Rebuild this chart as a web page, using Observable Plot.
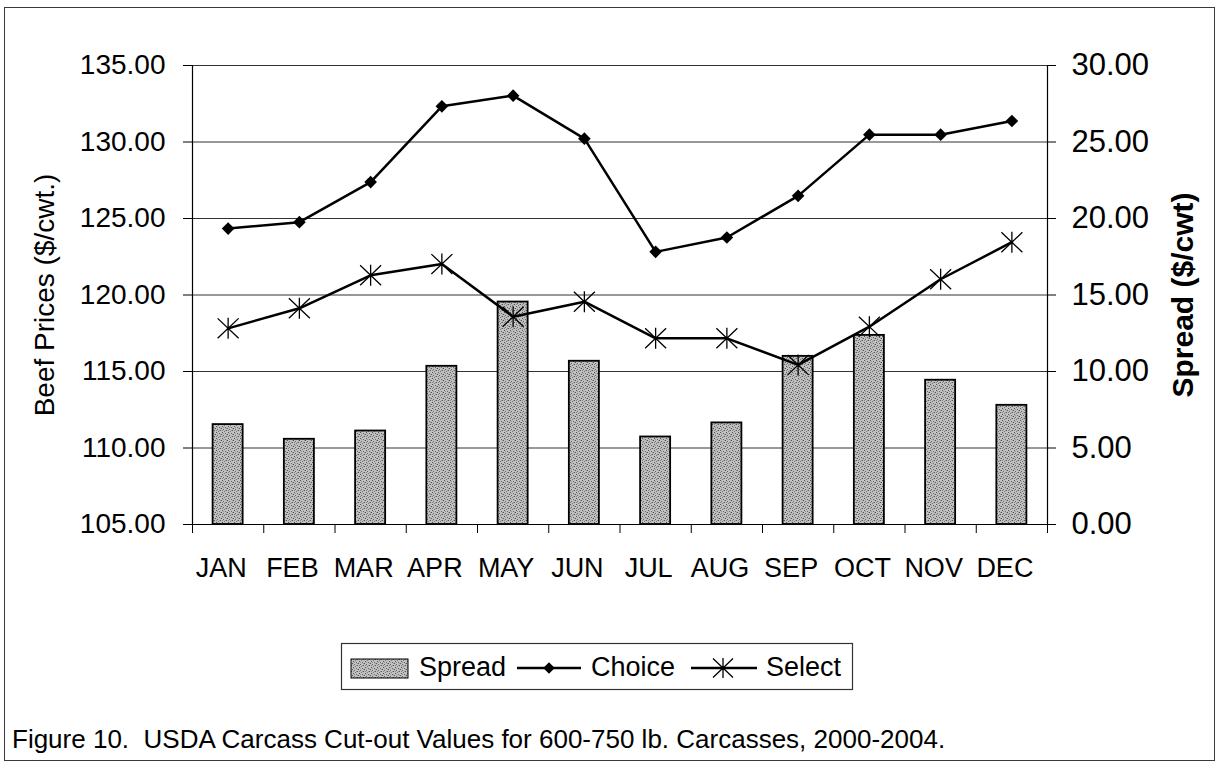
<!DOCTYPE html>
<html>
<head>
<meta charset="utf-8">
<script src="https://cdn.jsdelivr.net/npm/d3@7"></script>
<script src="https://cdn.jsdelivr.net/npm/@observablehq/plot@0.6"></script>
<style>
  html, body { margin: 0; padding: 0; background: #fff; }
  body { width: 1220px; height: 768px; position: relative; overflow: hidden; font-family: "Liberation Sans", Arial, sans-serif; }
  #frame { position: absolute; left: 4px; top: 7px; width: 1211px; height: 754px; border: 1.5px solid #3a3a3a; box-sizing: border-box; }
  #chart { position: absolute; left: 0; top: 0; }
  #legend { position: absolute; left: 341px; top: 643px; }
  #caption { position: absolute; left: 12px; top: 726px; font-size: 26px; line-height: 26px; white-space: pre; color: #000; }
</style>
</head>
<body>
<svg width="0" height="0" style="position:absolute">
  <defs>
    <pattern id="stip" width="6" height="6" patternUnits="userSpaceOnUse">
      <rect width="6" height="6" fill="#c0c0c0"/>
      <rect x="0" y="0" width="1" height="1" fill="#555"/>
      <rect x="3" y="1" width="1" height="1" fill="#666"/>
      <rect x="5" y="2" width="1" height="1" fill="#555"/>
      <rect x="1" y="3" width="1" height="1" fill="#666"/>
      <rect x="4" y="4" width="1" height="1" fill="#555"/>
      <rect x="2" y="5" width="1" height="1" fill="#777"/>
      <rect x="1" y="1" width="1" height="1" fill="#999"/>
      <rect x="4" y="2" width="1" height="1" fill="#999"/>
      <rect x="3" y="4" width="1" height="1" fill="#999"/>
      <rect x="0" y="4" width="1" height="1" fill="#888"/>
    </pattern>
  </defs>
</svg>
<div id="frame"></div>
<div id="chart"></div>
<div id="legend"></div>
<div id="caption">Figure 10.  USDA Carcass Cut-out Values for 600-750 lb. Carcasses, 2000-2004.</div>
<script>
const months = ["JAN","FEB","MAR","APR","MAY","JUN","JUL","AUG","SEP","OCT","NOV","DEC"];
const spread = [6.53, 5.57, 6.11, 10.34, 14.54, 10.67, 5.72, 6.64, 10.99, 12.36, 9.43, 7.79];
const choice = [124.34, 124.76, 127.38, 132.33, 133.03, 130.22, 122.82, 123.76, 126.48, 130.48, 130.48, 131.37];
const select = [117.82, 119.13, 121.29, 122.02, 118.58, 119.56, 117.17, 117.17, 115.43, 117.93, 121.03, 123.45];
const leftTicks = [105, 110, 115, 120, 125, 130, 135];
const rightTicks = [0, 5, 10, 15, 20, 25, 30];
const seriesNames = ["Spread", "Choice", "Select"];
const leftTitle = "Beef Prices ($/cwt.)";
const rightTitle = "Spread ($/cwt)";

const base = leftTicks[0]; // right axis 0 aligns with left 105
const data = months.map((m, i) => ({month: m, i, spread: spread[i], choice: choice[i], select: select[i]}));

const starSymbol = {
  draw(ctx, size) {
    const r = Math.sqrt(size / Math.PI);
    ctx.moveTo(-r, -r * 0.95); ctx.lineTo(r, r * 0.95);
    ctx.moveTo(-r, r * 0.95); ctx.lineTo(r, -r * 0.95);
    ctx.moveTo(0, -r); ctx.lineTo(0, r);
  }
};

const font = "Liberation Sans, Arial, sans-serif";

const chart = Plot.plot({
  width: 1220,
  height: 600,
  marginLeft: 192,
  marginRight: 173,
  marginTop: 65,
  marginBottom: 76,
  style: {fontFamily: font, color: "#000", background: "transparent", overflow: "visible"},
  x: {type: "linear", domain: [0, months.length]},
  y: {domain: [leftTicks[0], leftTicks[leftTicks.length - 1]]},
  marks: [
    Plot.gridY(leftTicks, {stroke: "#333", strokeOpacity: 1, strokeWidth: 1}),
    Plot.rectY(data, {
      x1: d => d.i, x2: d => d.i + 1, y1: base, y2: d => base + d.spread,
      insetLeft: 20.6, insetRight: 20.6,
      fill: "url(#stip)", stroke: "#000", strokeWidth: 1.8
    }),
    Plot.ruleX([0, months.length], {stroke: "#000", strokeWidth: 1.2}),
    Plot.axisY(leftTicks, {anchor: "left", tickSize: 9, tickPadding: 18, fontSize: 28, tickFormat: d => d.toFixed(2), label: null, stroke: "#000"}),
    Plot.axisY(rightTicks.map(v => v + base), {anchor: "right", tickSize: 8, tickPadding: 16, fontSize: 31, tickFormat: d => (d - base).toFixed(2), label: null, stroke: "#000"}),
    Plot.axisX(d3.range(months.length + 1), {tickSize: 9, tickFormat: () => "", label: null, stroke: "#000"}),
    Plot.axisX(months.map((m, i) => i + 0.5), {tickSize: 0, tickPadding: 33, fontSize: 27, dx: -7, tickFormat: d => months[Math.floor(d)], label: null}),
    Plot.ruleY([base], {stroke: "#000", strokeWidth: 1.2}),
    Plot.line(data, {x: d => d.i + 0.5, y: "choice", stroke: "#000", strokeWidth: 2.5}),
    Plot.dot(data, {x: d => d.i + 0.5, y: "choice", symbol: "diamond2", r: 5.7, fill: "#000", stroke: "none"}),
    Plot.line(data, {x: d => d.i + 0.5, y: "select", stroke: "#000", strokeWidth: 2.5}),
    Plot.dot(data, {x: d => d.i + 0.5, y: "select", symbol: starSymbol, r: 10.5, fill: "none", stroke: "#000", strokeWidth: 1.3}),
    Plot.text([leftTitle], {frameAnchor: "left", textAnchor: "middle", dx: -147, rotate: -90, fontSize: 28, fill: "#000"}),
    Plot.text([rightTitle], {frameAnchor: "right", textAnchor: "middle", dx: 136, rotate: -90, fontSize: 30, fontWeight: "bold", fill: "#000"})
  ]
});
document.getElementById("chart").appendChild(chart);

// Legend
const lw = 512, lh = 47;
const lg = d3.select("#legend").append("svg").attr("width", lw).attr("height", lh)
  .style("font-family", font).style("overflow", "visible");
lg.append("rect").attr("x", 0.5).attr("y", 0.5).attr("width", lw - 1).attr("height", lh - 1)
  .attr("fill", "#fff").attr("stroke", "#333").attr("stroke-width", 1.2);
const ty = 33;
// Spread swatch
lg.append("rect").attr("x", 10).attr("y", 16).attr("width", 57).attr("height", 19)
  .attr("fill", "url(#stip)").attr("stroke", "#000").attr("stroke-width", 1);
lg.append("text").attr("x", 78).attr("y", ty).attr("font-size", 27).text(seriesNames[0]);
// Choice
lg.append("line").attr("x1", 176).attr("x2", 240).attr("y1", 25).attr("y2", 25).attr("stroke", "#000").attr("stroke-width", 2.5);
lg.append("path").attr("transform", "translate(208,25)").attr("d", d3.symbol(d3.symbolDiamond2, Math.PI * 5.2 * 5.2)()).attr("fill", "#000");
lg.append("text").attr("x", 250).attr("y", ty).attr("font-size", 27).text(seriesNames[1]);
// Select
lg.append("line").attr("x1", 350).attr("x2", 416).attr("y1", 25).attr("y2", 25).attr("stroke", "#000").attr("stroke-width", 2.5);
lg.append("path").attr("transform", "translate(382,25)").attr("d", d3.symbol(starSymbol, Math.PI * 10 * 10)()).attr("fill", "none").attr("stroke", "#000").attr("stroke-width", 1.3);
lg.append("text").attr("x", 425).attr("y", ty).attr("font-size", 27).text(seriesNames[2]);
</script>
</body>
</html>
